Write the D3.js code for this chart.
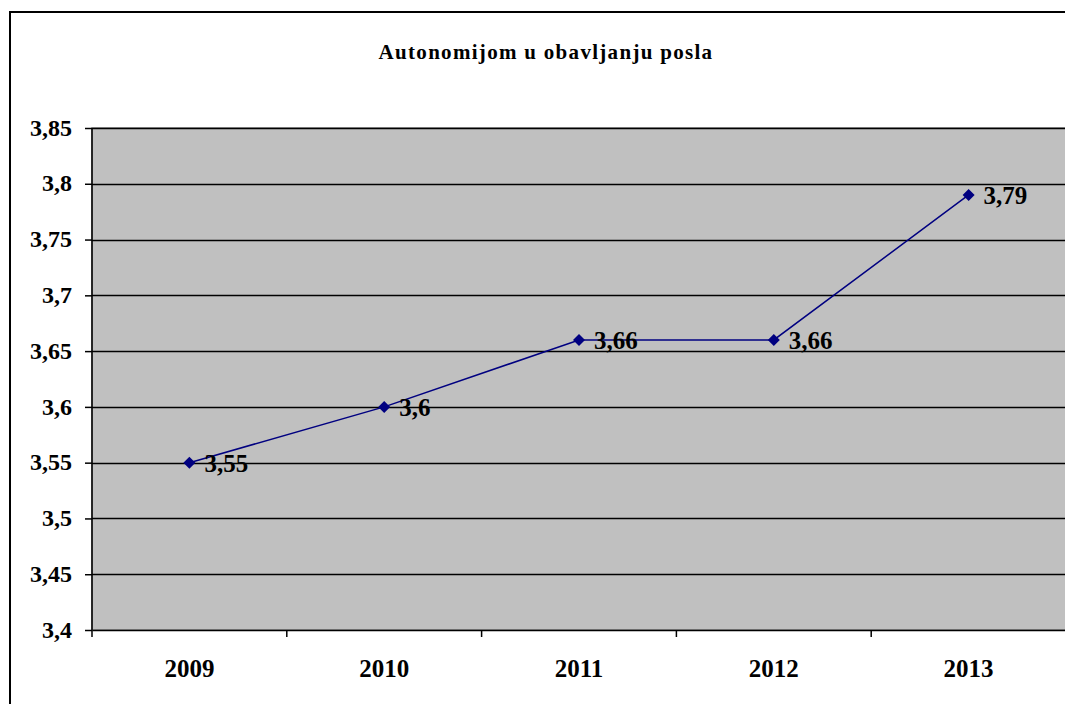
<!DOCTYPE html>
<html>
<head>
<meta charset="utf-8">
<script src="https://cdn.jsdelivr.net/npm/d3@7"></script>
<style>
  body { margin: 0; background: #fff; }
  svg { display: block; }
  text { font-family: "Liberation Serif", "Times New Roman", serif !important; font-weight: bold; }
</style>
</head>
<body>
<script>
var years = ["2009", "2010", "2011", "2012", "2013"];
var values = [3.55, 3.6, 3.66, 3.66, 3.79];
var labels = ["3,55", "3,6", "3,66", "3,66", "3,79"];
var yTicks = [3.4, 3.45, 3.5, 3.55, 3.6, 3.65, 3.7, 3.75, 3.8, 3.85];

var width = 1065,
  height = 704;
var margin = { top: 128, bottom: 74, left: 92, right: -1 };

var svg = d3.select('body')
  .append('svg')
  .attr('width', width)
  .attr('height', height);

// outer chart border (runs off the right and bottom edges)
svg.append('rect')
  .attr('x', 10)
  .attr('y', 12)
  .attr('width', 1100)
  .attr('height', 800)
  .attr('fill', 'none')
  .attr('stroke', '#000')
  .attr('stroke-width', 2);

// title
svg.append('text')
  .attr('x', 546)
  .attr('y', 59)
  .attr('text-anchor', 'middle')
  .style('font-size', '21px')
  .style('letter-spacing', '1.3px')
  .text('Autonomijom u obavljanju posla');

// scales
var yScale = d3.scaleLinear()
  .domain([3.4, 3.85])
  .range([height - margin.bottom, margin.top]);

var xScale = d3.scaleBand()
  .domain(years)
  .range([margin.left, width - margin.right]);

// plot area
svg.append('rect')
  .attr('x', margin.left)
  .attr('y', margin.top)
  .attr('width', width - margin.right - margin.left)
  .attr('height', height - margin.bottom - margin.top)
  .attr('fill', '#c0c0c0')
  .attr('stroke', '#808080')
  .attr('stroke-width', 1.5);

// gridlines
svg.append('g')
  .selectAll('line')
  .data(yTicks.slice(1))
  .enter()
  .append('line')
  .attr('x1', margin.left)
  .attr('x2', width - margin.right)
  .attr('y1', function(d) { return Math.round(yScale(d)) + 0.5; })
  .attr('y2', function(d) { return Math.round(yScale(d)) + 0.5; })
  .attr('stroke', '#000')
  .attr('stroke-width', 1.5);

// y axis
var yAxis = svg.append('g')
  .attr('transform', 'translate(' + margin.left + ',0)')
  .call(d3.axisLeft(yScale)
    .tickValues(yTicks)
    .tickSize(7)
    .tickPadding(13)
    .tickFormat(function(d) { return String(+d.toFixed(2)).replace('.', ','); }));
yAxis.attr('font-family', null);
yAxis.selectAll('text')
  .style('font-size', '24px')
  .attr('fill', '#000')
  .attr('dy', '0.3em');
yAxis.selectAll('line, path').attr('stroke', '#000').attr('stroke-width', 1.5);
yAxis.select('.domain').attr('d', 'M0,' + margin.top + 'V' + (height - margin.bottom));

// x axis
var xAxis = svg.append('g')
  .attr('transform', 'translate(0,' + (height - margin.bottom) + ')')
  .call(d3.axisBottom(xScale).tickSize(0).tickPadding(29));
xAxis.attr('font-family', null);
xAxis.selectAll('text')
  .style('font-size', '25px')
  .attr('fill', '#000');
xAxis.select('.domain').attr('stroke', '#000').attr('stroke-width', 1.5);

// category tick marks at band boundaries
xAxis.selectAll('.bt')
  .data(years)
  .enter()
  .append('line')
  .attr('x1', function(d) { return xScale(d); })
  .attr('x2', function(d) { return xScale(d); })
  .attr('y1', 0)
  .attr('y2', 7)
  .attr('stroke', '#000')
  .attr('stroke-width', 1.5);

// line
var cx = function(d, i) { return xScale(years[i]) + xScale.bandwidth() / 2; };
var line = d3.line()
  .x(cx)
  .y(function(d) { return yScale(d); });

svg.append('path')
  .datum(values)
  .attr('d', line)
  .attr('fill', 'none')
  .attr('stroke', '#000080')
  .attr('stroke-width', 1.5);

// diamond markers
svg.selectAll('.marker')
  .data(values)
  .enter()
  .append('path')
  .attr('class', 'marker')
  .attr('transform', function(d, i) { return 'translate(' + cx(d, i) + ',' + yScale(d) + ')'; })
  .attr('d', 'M0,-6L6,0L0,6L-6,0Z')
  .attr('fill', '#000080');

// data labels
svg.selectAll('.lbl')
  .data(values)
  .enter()
  .append('text')
  .attr('class', 'lbl')
  .attr('x', function(d, i) { return cx(d, i) + 15; })
  .attr('y', function(d) { return yScale(d) + 9; })
  .style('font-size', '25px')
  .attr('fill', '#000')
  .text(function(d, i) { return labels[i]; });
</script>
</body>
</html>
